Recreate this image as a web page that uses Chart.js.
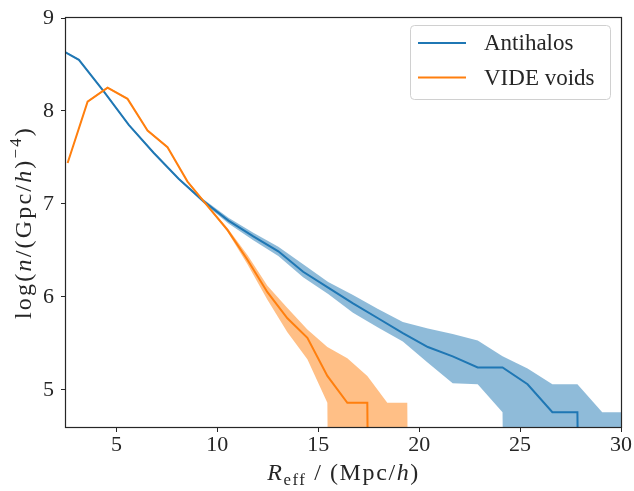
<!DOCTYPE html>
<html lang="en">
<head>
    <meta charset="UTF-8">
    <title>Void size function</title>
    <script src="https://cdn.jsdelivr.net/npm/chart.js"></script>
    <style>
        html, body { margin: 0; padding: 0; background: #ffffff; }
        #wrap { width: 634px; height: 491px; }
    </style>
</head>
<body>
<div id="wrap"><canvas id="vsf" width="634" height="491"></canvas></div>
<script>
    // values
    const antihaloR    = [1.9, 3.14, 4.37, 5.61, 6.84, 8.08, 9.31, 10.55, 11.78, 13.02, 14.25, 15.49, 16.72, 17.96, 19.19, 20.43, 21.66, 22.9, 24.13, 25.37, 26.6, 27.84, 29.07, 30.3];
    const antihaloMean = [8.70, 8.55, 8.21, 7.85, 7.55, 7.27, 7.03, 6.82, 6.65, 6.49, 6.27, 6.10, 5.93, 5.77, 5.61, 5.46, 5.36, 5.24, 5.24, 5.06, 4.76, 4.76, -20, -20];
    const antihaloHigh = [8.71, 8.56, 8.22, 7.86, 7.56, 7.28, 7.05, 6.85, 6.69, 6.54, 6.35, 6.16, 6.02, 5.87, 5.73, 5.66, 5.60, 5.53, 5.36, 5.23, 5.06, 5.06, 4.76, 4.76];
    const antihaloLow  = [8.69, 8.54, 8.20, 7.84, 7.54, 7.26, 7.01, 6.79, 6.61, 6.44, 6.21, 6.03, 5.83, 5.67, 5.52, 5.29, 5.07, 5.06, 4.76, -20, -20, -20, -20, -20];

    const videR    = [2.58, 3.57, 4.56, 5.55, 6.54, 7.53, 8.52, 9.51, 10.5, 11.49, 12.48, 13.47, 14.46, 15.45, 16.44, 17.43, 18.42, 19.41, 20.4];
    const videMean = [7.44, 8.10, 8.25, 8.13, 7.79, 7.61, 7.24, 6.98, 6.72, 6.40, 6.05, 5.77, 5.56, 5.15, 4.86, 4.86, -20, -20, -20];
    const videHigh = [7.45, 8.11, 8.26, 8.14, 7.80, 7.62, 7.25, 6.99, 6.74, 6.45, 6.12, 5.88, 5.65, 5.46, 5.34, 5.15, 4.86, 4.86, -20];
    const videLow  = [7.43, 8.09, 8.24, 8.12, 7.78, 7.60, 7.23, 6.97, 6.70, 6.35, 5.97, 5.62, 5.33, 4.86, -20, -20, -20, -20, -20];

    const xTicks = [5, 10, 15, 20, 25, 30];
    const yTicks = [5, 6, 7, 8, 9];

    const FAMILY = "'Liberation Serif', 'DejaVu Serif', serif";
    const INK = '#262626';
    const BLUE = '#1f77b4', ORANGE = '#ff7f0e';

    const pts = (xs, ys) => xs.map((x, i) => ({x: x, y: ys[i]}));

    function meanLine(label, xs, ys, color, order) {
        return {label: label, data: pts(xs, ys), borderColor: color, borderWidth: 2,
                pointRadius: 0, tension: 0, fill: false, clip: 0, order: order};
    }
    function band(xs, ys, fill, bg, order) {
        return {data: pts(xs, ys), borderColor: 'rgba(0,0,0,0)', borderWidth: 0,
                pointRadius: 0, tension: 0, fill: fill, backgroundColor: bg, clip: 0, order: order};
    }

    // draw a row of text pieces (italic / subscript / superscript) centred on cx
    function drawRuns(ctx, runs, cx, baseY, size) {
        const parts = runs.map(r => {
            const s = (r.sub || r.sup) ? size * 0.7 : size;
            const font = (r.it ? 'italic ' : '') + s + 'px ' + FAMILY;
            ctx.font = font;
            return {t: r.t, font: font, w: ctx.measureText(r.t).width,
                    dy: r.sub ? size * 0.22 : (r.sup ? -size * 0.4 : 0)};
        });
        const total = parts.reduce((a, p) => a + p.w, 0);
        let x = cx - total / 2;
        ctx.textAlign = 'left';
        ctx.textBaseline = 'alphabetic';
        parts.forEach(p => { ctx.font = p.font; ctx.fillText(p.t, x, baseY + p.dy); x += p.w; });
    }

    const framePlugin = {
        id: 'frame',
        afterDatasetsDraw(chart) {
            const {ctx, chartArea: a} = chart;
            ctx.save();
            ctx.strokeStyle = INK;
            ctx.lineWidth = 1.2;
            ctx.strokeRect(Math.round(a.left) - 0.5, Math.round(a.top) - 0.5,
                           Math.round(a.right - a.left) + 1, Math.round(a.bottom - a.top) + 1);
            ctx.restore();
        }
    };

    const titlePlugin = {
        id: 'titles',
        afterDraw(chart) {
            const {ctx, chartArea: a} = chart;
            ctx.save();
            ctx.fillStyle = INK;
            ctx.letterSpacing = '1.6px';
            drawRuns(ctx, [{t: 'R', it: true}, {t: 'eff', sub: true}, {t: ' / (Mpc/'}, {t: 'h', it: true}, {t: ')'}],
                     (a.left + a.right) / 2, 480, 24);
            ctx.letterSpacing = '2.2px';
            ctx.translate(31, (a.top + a.bottom) / 2);
            ctx.rotate(-Math.PI / 2);
            drawRuns(ctx, [{t: 'log('}, {t: 'n', it: true}, {t: '/(Gpc/'}, {t: 'h', it: true}, {t: ')'},
                           {t: '\u22124', sup: true}, {t: ')'}], 0, 0, 24);
            ctx.restore();
        }
    };

    const legendPlugin = {
        id: 'boxLegend',
        afterDraw(chart) {
            const {ctx} = chart;
            const items = chart.data.datasets.filter(d => d.label);
            const x0 = 410, y0 = 25, w = 200, h = 74;
            ctx.save();
            ctx.beginPath();
            ctx.roundRect(x0 + 0.5, y0 + 0.5, w, h, 4);
            ctx.fillStyle = 'rgba(255,255,255,0.8)';
            ctx.fill();
            ctx.strokeStyle = '#d0d0d0';
            ctx.lineWidth = 1;
            ctx.stroke();
            items.forEach((d, i) => {
                const yy = 43 + i * 34.5;
                ctx.beginPath();
                ctx.moveTo(418, yy);
                ctx.lineTo(466, yy);
                ctx.strokeStyle = d.borderColor;
                ctx.lineWidth = 2;
                ctx.stroke();
                ctx.fillStyle = INK;
                ctx.font = '23px ' + FAMILY;
                ctx.textAlign = 'left';
                ctx.textBaseline = 'middle';
                ctx.fillText(d.label, 484, yy + 1);
            });
            ctx.restore();
        }
    };

    const tickFont = {family: FAMILY, size: 22, lineHeight: 1};

    new Chart(document.getElementById('vsf'), {
        type: 'line',
        data: {
            datasets: [
                meanLine('Antihalos', antihaloR, antihaloMean, BLUE, 2),
                meanLine('VIDE voids', videR, videMean, ORANGE, 0),
                band(antihaloR, antihaloHigh, '+1', 'rgba(31,119,180,0.5)', 3),
                band(antihaloR, antihaloLow, false, 'rgba(0,0,0,0)', 3),
                band(videR, videHigh, '+1', 'rgba(255,127,14,0.5)', 1),
                band(videR, videLow, false, 'rgba(0,0,0,0)', 1)
            ]
        },
        options: {
            responsive: false,
            animation: false,
            layout: {padding: {top: 13, right: 13, left: 0, bottom: 0}},
            plugins: {legend: {display: false}, tooltip: {enabled: false}},
            scales: {
                x: {
                    type: 'linear', min: 2.5, max: 30,
                    afterBuildTicks: s => { s.ticks = xTicks.map(v => ({value: v})); },
                    afterFit: s => { s.height = 64; },
                    grid: {display: true, drawOnChartArea: false, drawTicks: true, tickLength: 5, color: INK},
                    border: {display: false},
                    ticks: {font: tickFont, color: INK, padding: 2, maxRotation: 0, autoSkip: false}
                },
                y: {
                    type: 'linear', min: 4.6, max: 9,
                    afterBuildTicks: s => { s.ticks = yTicks.map(v => ({value: v})); },
                    afterFit: s => { s.width = 66; },
                    grid: {display: true, drawOnChartArea: false, drawTicks: true, tickLength: 5, color: INK},
                    border: {display: false},
                    ticks: {font: tickFont, color: INK, padding: 7, autoSkip: false}
                }
            }
        },
        plugins: [framePlugin, titlePlugin, legendPlugin]
    });
</script>
</body>
</html>
